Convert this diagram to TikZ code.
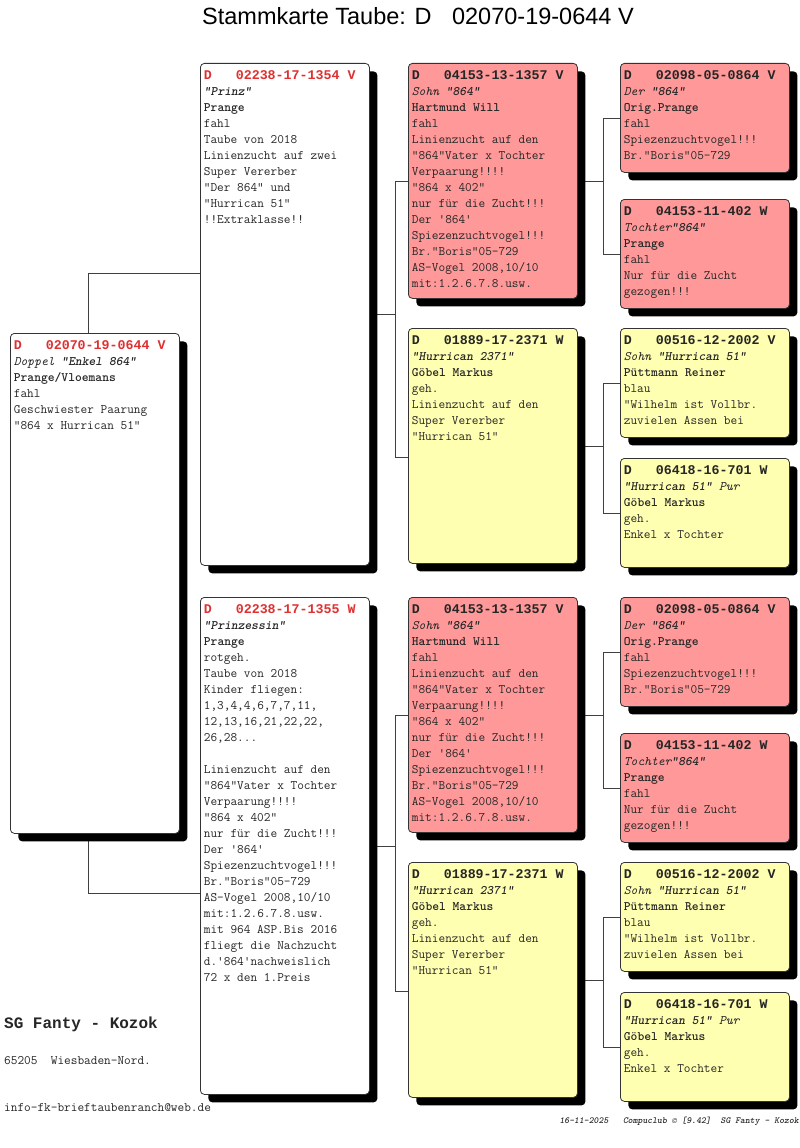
\documentclass[tikz,border=0pt]{standalone}
\usepackage{fontspec}
\setmainfont{Liberation Serif}
\newfontfamily\titelfont{Liberation Sans}
\newfontfamily\fettmono{Liberation Mono}
\usetikzlibrary{shadows, backgrounds}

\definecolor{rotfill}{RGB}{255,153,153}
\definecolor{gelbfill}{RGB}{255,255,178}
\definecolor{kopfrot}{RGB}{224,48,48}

% Karte: Hoehe, Kopfzeile, weitere Zeilen
\newcommand{\karte}[3]{%
  \parbox[t][#1pt][t]{162pt}{\ttfamily\fontsize{12.95}{16}\selectfont\raggedright
    \rule{0pt}{16pt}{\fettmono\bfseries\fontsize{13.3}{16}\selectfont #2}\\
    #3}}

\tikzset{
  karte/.style={draw=black!80, line width=0.8pt, rounded corners=4pt,
    anchor=north west, inner xsep=3.5pt, inner ysep=0pt, text=black!85,
    drop shadow={shadow xshift=8pt, shadow yshift=-8pt, fill=black, opacity=1}},
  weiss/.style={karte, fill=white},
  rot/.style={karte, fill=rotfill},
  gelb/.style={karte, fill=gelbfill},
  linie/.style={draw=black!75, line width=0.8pt},
  fuss/.style={anchor=base west, inner sep=0pt, text=black!85}
}

\begin{document}
\begin{tikzpicture}[x=1pt, y=-1pt]
  \begin{pgfonlayer}{background}
    \path[use as bounding box, fill=white] (0,0) rectangle (800,1148);
  \end{pgfonlayer}

  \node[anchor=base west, inner sep=0pt, font=\titelfont\fontsize{23.5}{28}\selectfont]
    (titel) at (202,25) {Stammkarte Taube: D\hspace{20.5pt}02070-19-0644 V};

  % Taube
  \node[weiss] (p) at (10,333) {\karte{500}{\textcolor{kopfrot}{D~~~02070-19-0644 V}}{%
    {\itshape Doppel \textbf{"Enkel 864"}}\\
    \textbf{Prange/Vloemans}\\
    fahl\\
    Geschwiester Paarung\\
    "864 x Hurrican 51"}};

  % Eltern
  \node[weiss] (s) at (200,63) {\karte{502}{\textcolor{kopfrot}{D~~~02238-17-1354 V}}{%
    {\itshape\bfseries "Prinz"}\\
    \textbf{Prange}\\
    fahl\\
    Taube von 2018\\
    Linienzucht auf zwei\\
    Super Vererber\\
    "Der 864" und\\
    "Hurrican 51"\\
    !!Extraklasse!!}};
  \node[weiss] (d) at (200,597) {\karte{497}{\textcolor{kopfrot}{D~~~02238-17-1355 W}}{%
    {\itshape\bfseries "Prinzessin"}\\
    \textbf{Prange}\\
    rotgeh.\\
    Taube von 2018\\
    Kinder fliegen:\\
    1,3,4,4,6,7,7,11,\\
    12,13,16,21,22,22,\\
    26,28...\\[16pt]
    Linienzucht auf den\\
    "864"Vater x Tochter\\
    Verpaarung!!!!\\
    "864 x 402"\\
    nur für die Zucht!!!\\
    Der '864'\\
    Spiezenzuchtvogel!!!\\
    Br."Boris"05-729\\
    AS-Vogel 2008,10/10\\
    mit:1.2.6.7.8.usw.\\
    mit 964 ASP.Bis 2016\\
    fliegt die Nachzucht\\
    d.'864'nachweislich\\
    72 x den 1.Preis}};

  % Grosseltern
  \node[rot] (ss) at (408,63) {\karte{235}{D~~~04153-13-1357 V}{%
    {\itshape Sohn \textbf{"864"}}\\
    \textbf{Hartmund Will}\\
    fahl\\
    Linienzucht auf den\\
    "864"Vater x Tochter\\
    Verpaarung!!!!\\
    "864 x 402"\\
    nur für die Zucht!!!\\
    Der '864'\\
    Spiezenzuchtvogel!!!\\
    Br."Boris"05-729\\
    AS-Vogel 2008,10/10\\
    mit:1.2.6.7.8.usw.}};
  \node[gelb] (sd) at (408,328) {\karte{235}{D~~~01889-17-2371 W}{%
    {\itshape\bfseries "Hurrican 2371"}\\
    \textbf{Göbel Markus}\\
    geh.\\
    Linienzucht auf den\\
    Super Vererber\\
    "Hurrican 51"}};
  \node[rot] (ds) at (408,597) {\karte{235}{D~~~04153-13-1357 V}{%
    {\itshape Sohn \textbf{"864"}}\\
    \textbf{Hartmund Will}\\
    fahl\\
    Linienzucht auf den\\
    "864"Vater x Tochter\\
    Verpaarung!!!!\\
    "864 x 402"\\
    nur für die Zucht!!!\\
    Der '864'\\
    Spiezenzuchtvogel!!!\\
    Br."Boris"05-729\\
    AS-Vogel 2008,10/10\\
    mit:1.2.6.7.8.usw.}};
  \node[gelb] (dd) at (408,862) {\karte{235}{D~~~01889-17-2371 W}{%
    {\itshape\bfseries "Hurrican 2371"}\\
    \textbf{Göbel Markus}\\
    geh.\\
    Linienzucht auf den\\
    Super Vererber\\
    "Hurrican 51"}};

  % Urgrosseltern
  \node[rot] (sss) at (620,63) {\karte{109}{D~~~02098-05-0864 V}{%
    {\itshape Der \textbf{"864"}}\\
    \textbf{Orig.Prange}\\
    fahl\\
    Spiezenzuchtvogel!!!\\
    Br."Boris"05-729}};
  \node[rot] (ssd) at (620,199) {\karte{109}{D~~~04153-11-402 W}{%
    {\itshape Tochter\textbf{"864"}}\\
    \textbf{Prange}\\
    fahl\\
    Nur für die Zucht\\
    gezogen!!!}};
  \node[gelb] (sds) at (620,328) {\karte{109}{D~~~00516-12-2002 V}{%
    {\itshape Sohn \textbf{"Hurrican 51"}}\\
    \textbf{Püttmann Reiner}\\
    blau\\
    "Wilhelm ist Vollbr.\\
    zuvielen Assen bei}};
  \node[gelb] (sdd) at (620,458) {\karte{109}{D~~~06418-16-701 W}{%
    {\itshape\textbf{"Hurrican 51"} Pur}\\
    \textbf{Göbel Markus}\\
    geh.\\
    Enkel x Tochter}};
  \node[rot] (dss) at (620,597) {\karte{109}{D~~~02098-05-0864 V}{%
    {\itshape Der \textbf{"864"}}\\
    \textbf{Orig.Prange}\\
    fahl\\
    Spiezenzuchtvogel!!!\\
    Br."Boris"05-729}};
  \node[rot] (dsd) at (620,733) {\karte{109}{D~~~04153-11-402 W}{%
    {\itshape Tochter\textbf{"864"}}\\
    \textbf{Prange}\\
    fahl\\
    Nur für die Zucht\\
    gezogen!!!}};
  \node[gelb] (dds) at (620,862) {\karte{109}{D~~~00516-12-2002 V}{%
    {\itshape Sohn \textbf{"Hurrican 51"}}\\
    \textbf{Püttmann Reiner}\\
    blau\\
    "Wilhelm ist Vollbr.\\
    zuvielen Assen bei}};
  \node[gelb] (ddd) at (620,992) {\karte{109}{D~~~06418-16-701 W}{%
    {\itshape\textbf{"Hurrican 51"} Pur}\\
    \textbf{Göbel Markus}\\
    geh.\\
    Enkel x Tochter}};

  % Verbindungen
  \coordinate (ps) at (88,273);
  \coordinate (pd) at (88,893);
  \coordinate (sj) at (395,0);
  \coordinate (dj) at (395,0);
  \coordinate (ssj) at (603,0);
  \coordinate (sdj) at (603,0);
  \coordinate (dsj) at (603,0);
  \coordinate (ddj) at (603,0);
  \begin{pgfonlayer}{background}
    \draw[linie] (p.north -| ps) -- (ps) -- (ps -| s.west);
    \draw[linie] (p.south -| pd) -- (pd) -- (pd -| d.west);
    \draw[linie] (s.east) -- (s.east -| sj);
    \draw[linie] (ss.west) -| ([yshift=-11pt]sj |- sd.west) -- ([yshift=-11pt]sd.west);
    \draw[linie] (d.east) -- (d.east -| dj);
    \draw[linie] (ds.west) -| ([yshift=-11pt]dj |- dd.west) -- ([yshift=-11pt]dd.west);
    \draw[linie] (ss.east) -- (ss.east -| ssj);
    \draw[linie] (sss.west) -| (ssj |- ssd.west) -- (ssd.west);
    \draw[linie] (sd.east) -- (sd.east -| sdj);
    \draw[linie] (sds.west) -| (sdj |- sdd.west) -- (sdd.west);
    \draw[linie] (ds.east) -- (ds.east -| dsj);
    \draw[linie] (dss.west) -| (dsj |- dsd.west) -- (dsd.west);
    \draw[linie] (dd.east) -- (dd.east -| ddj);
    \draw[linie] (dds.west) -| (ddj |- ddd.west) -- (ddd.west);
  \end{pgfonlayer}

  % Fusszeilen
  \node[fuss, font=\fettmono\bfseries\fontsize{16}{18}\selectfont] (verein) at (4,1028) {SG Fanty - Kozok};
  \node[fuss, font=\ttfamily\fontsize{12.95}{14}\selectfont] (ort) at (4,1064) {65205~~Wiesbaden-Nord.};
  \node[fuss, font=\ttfamily\fontsize{12.95}{14}\selectfont] (mail) at (4,1111) {info-fk-brieftaubenranch@web.de};
  \node[fuss, anchor=base east, font=\ttfamily\bfseries\itshape\fontsize{9.3}{10}\selectfont]
    (stempel) at (799,1123) {16-11-2025~~~Compuclub © [9.42]~~SG Fanty - Kozok};
\end{tikzpicture}
\end{document}
